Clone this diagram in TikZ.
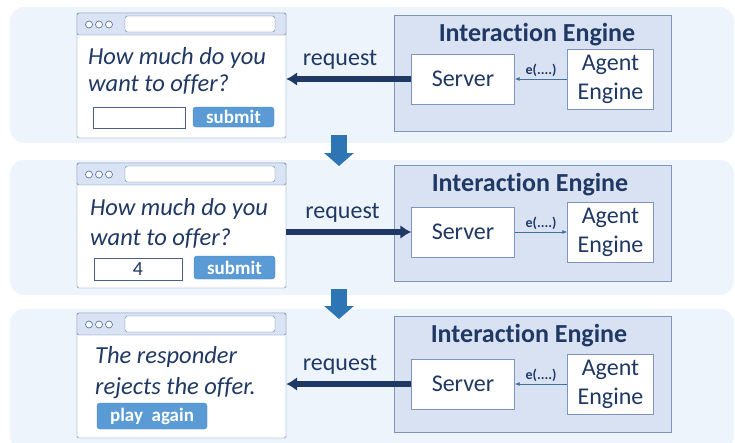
\documentclass[tikz,border=0pt]{standalone}
\usepackage{fontspec}
\setmainfont{Carlito}[Ligatures=NoCommon]
\usetikzlibrary{arrows.meta,positioning}

\definecolor{panelbg}{HTML}{EEF4FB}
\definecolor{navy}{HTML}{1F3864}
\definecolor{winline}{HTML}{5B79A6}
\definecolor{barfill}{HTML}{DAE3F3}
\definecolor{engfill}{HTML}{D9E2F3}
\definecolor{engline}{HTML}{7F96BA}
\definecolor{btnblue}{HTML}{5B9BD5}
\definecolor{btnline}{HTML}{4A84BE}
\definecolor{downblue}{HTML}{2E75B6}
\definecolor{callblue}{HTML}{41719C}

\tikzset{
  panel/.style={fill=panelbg, rounded corners=14pt, inner sep=0pt},
  win/.style={draw=winline, fill=white, rounded corners=1.5pt, inner sep=0pt,
    minimum width=209pt, minimum height=125pt},
  winbar/.style={draw=winline, fill=barfill, rounded corners=1.5pt, inner sep=0pt,
    minimum width=209pt, minimum height=22pt},
  windot/.style={circle, draw=winline, fill=white, line width=0.7pt, inner sep=0pt,
    minimum size=7pt},
  addr/.style={draw=winline, fill=white, rounded corners=2.5pt, inner sep=0pt,
    minimum width=150pt, minimum height=16pt},
  question/.style={anchor=west, align=left, inner sep=0pt, text=navy,
    font=\itshape\fontsize{24.5}{27}\selectfont},
  field/.style={draw=navy!80, fill=white, inner sep=0pt, text=navy,
    font=\fontsize{20}{20}\selectfont},
  btn/.style={draw=btnline, fill=btnblue, rounded corners=3pt, inner sep=0pt,
    text=white, font=\bfseries\fontsize{19}{19}\selectfont},
  engine/.style={draw=engline, fill=engfill, inner sep=0pt,
    minimum width=277pt, minimum height=116pt},
  enginetitle/.style={inner sep=0pt, text=navy, font=\bfseries\fontsize{26}{26}\selectfont},
  part/.style={draw=engline, fill=white, inner sep=0pt, align=center, text=navy,
    font=\fontsize{24}{29}\selectfont},
  lbl/.style={inner sep=0pt, text=navy, font=\fontsize{24}{24}\selectfont},
  req/.style={draw=navy, line width=6.5pt, -{Latex[length=11pt,width=14pt]}},
  call/.style={draw=callblue, line width=0.8pt, -{Latex[length=5pt,width=4pt]}},
  calllbl/.style={inner sep=0pt, text=navy, font=\bfseries\fontsize{14}{14}\selectfont},
  down/.style={draw=downblue, line width=16pt, -{Triangle[length=13pt,width=29pt]}}
}

\begin{document}
\begin{tikzpicture}[x=1pt, y=-1pt]
\useasboundingbox (0,0) rectangle (735,442);
\clip (0,0) rectangle (735,442);

% three steps
\node[panel, minimum width=724pt, minimum height=136pt] (panel1) at (372,75) {};
\node[panel, minimum width=724pt, minimum height=135pt] (panel2) at (372,227.5) {};
\node[panel, minimum width=724pt, minimum height=141pt] (panel3) at (372,379.5) {};

% browser windows
\foreach \n/\wy in {1/13, 2/163, 3/313} {
  \node[win] (win\n) at (181.5,\wy+62.5) {};
  \node[winbar, anchor=north] (bar\n) at (win\n.north) {};
  \foreach \k in {0,1,2}
    \node[windot] (dot\n\k) at (89+10*\k,\wy+11.5) {};
  \node[addr] (addr\n) at (200,\wy+11) {};
}

% step 1
\node[question] (ask1) at (88,70.5) {How much do you\\want to offer?};
\node[field, minimum width=92pt, minimum height=21pt] (offer1) at (139,117.5) {};
\node[btn, minimum width=81pt, minimum height=20pt] (submit1) at (233.5,117) {submit};

% step 2
\node[question, font=\itshape\fontsize{24.5}{30}\selectfont] (ask2) at (90,223) {How much do you\\want to offer?};
\node[field, minimum width=88pt, minimum height=22pt] (offer2) at (138,269) {4};
\node[btn, minimum width=81pt, minimum height=23pt] (submit2) at (234.5,267.5) {submit};

% step 3
\node[question, font=\itshape\fontsize{24.5}{31}\selectfont] (ask3) at (95,372.5) {The responder\\rejects the offer.};
\node[btn, minimum width=110pt, minimum height=26pt] (again3) at (152,416) {play\ \ again};

% interaction engines
\foreach \n/\ey/\tx/\sy in {1/15/537/79, 2/165/530/232, 3/316/529/384} {
  \node[engine, anchor=north west] (engine\n) at (394,\ey) {};
  \node[enginetitle] (title\n) at (\tx,\ey+20) {Interaction Engine};
  \node[part, minimum width=103pt, minimum height=50pt] (server\n) at (463,\sy) {Server};
  \node[part, minimum width=86pt, minimum height=60pt] (agent\n) at (610.5,\sy) {Agent\\Engine};
}

% requests
\draw[req] (server1.west) -- node[lbl, pos=0.57, yshift=19pt] (reqlbl1) {request} (server1.west -| win1.east);
\draw[req] (server2.west -| win2.east) -- node[lbl, pos=0.45, yshift=19pt] (reqlbl2) {request} (server2.west);
\draw[req] (server3.west) -- node[lbl, pos=0.57, yshift=19pt] (reqlbl3) {request} (server3.west -| win3.east);

% engine calls
\draw[call] (agent1.west) -- node[calllbl, yshift=9pt] (calllbl1) {e(....)} (agent1.west -| server1.east);
\draw[call] (server2.east) -- node[calllbl, yshift=9pt] (calllbl2) {e(....)} (server2.east -| agent2.west);
\draw[call] (agent3.west) -- node[calllbl, yshift=9pt] (calllbl3) {e(....)} (agent3.west -| server3.east);

% next step
\coordinate (next1a) at (339,135);
\coordinate (next1b) at (339,166);
\coordinate (next2a) at (339,289);
\coordinate (next2b) at (339,319);
\draw[down] (next1a) -- (next1b);
\draw[down] (next2a) -- (next2b);
\end{tikzpicture}
\end{document}
